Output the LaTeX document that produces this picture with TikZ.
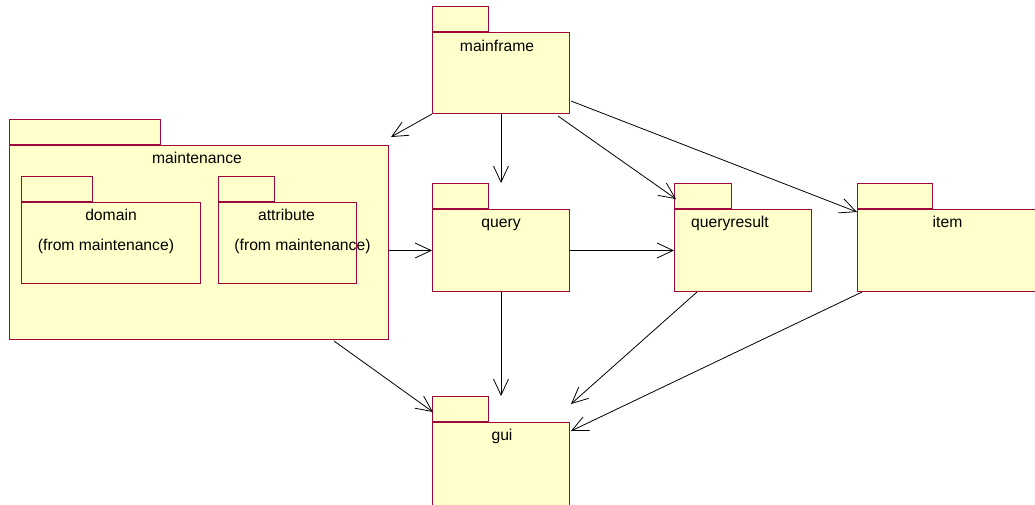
\documentclass[tikz,border=0pt]{standalone}
\usepackage{fontspec}
\setmainfont{Liberation Sans}
\usepackage{tikz}
\usetikzlibrary{calc,arrows.meta}
\definecolor{pkgred}{RGB}{158,8,58}
\definecolor{pkgfill}{RGB}{255,255,204}
\tikzset{
  pkgbody/.style={draw=pkgred, fill=pkgfill, line width=1pt, inner sep=0pt, anchor=north west},
  pkgtab/.style={draw=pkgred, fill=pkgfill, line width=1pt, inner sep=0pt, anchor=south west, minimum height=25pt},
  pkgname/.style={anchor=base, inner sep=0pt, font=\fontsize{15.7}{18}\selectfont},
  dep/.style={draw=black, line width=0.8pt, -{Straight Barb[length=16pt,width=15pt]}}
}
% package: name, corner, width:height:tab width
\def\umlpackage[#1](#2,#3)(#4:#5:#6){
  \node[pkgbody, minimum width=#4pt, minimum height=#5pt] (#1) at (#2,#3) {};
  \node[pkgtab, minimum width=#6pt] (#1-tab) at (#1.north west) {};
}

\begin{document}
\begin{tikzpicture}[x=1pt,y=-1pt]
			%%%%% START %%%%%
			\useasboundingbox (0,0) rectangle (1035,504);
			
			\umlpackage[maintenance](9,145)(379:194:151)
			\node[pkgname] (maintenance-name) at ($(maintenance.north)+(-2,18)$) {maintenance};
			
			\umlpackage[domain](21,202)(179:81:71)
			\node[pkgname] (domain-name) at ($(domain.north)+(0,18)$) {domain};
			\node[pkgname] (domain-from) at ($(domain.north)+(-5,48)$) {(from maintenance)};
			
			\umlpackage[attribute](218,202)(138:81:56)
			\node[pkgname] (attribute-name) at ($(attribute.north)+(-1,18)$) {attribute};
			\node[pkgname] (attribute-from) at ($(attribute.north)+(15,48)$) {(from maintenance)};
			
			\umlpackage[mainframe](432,32)(137:81:56)
			\node[pkgname] (mainframe-name) at ($(mainframe.north)+(-4,19)$) {mainframe};
			
			\umlpackage[query](432,209)(137:82:56)
			\node[pkgname] (query-name) at ($(query.north)+(0,18)$) {query};
			
			\umlpackage[queryresult](674,209)(137:82:57)
			\node[pkgname] (queryresult-name) at ($(queryresult.north)+(-13,18)$) {queryresult};
			
			\umlpackage[item](857,209)(182:82:75)
			\node[pkgname] (item-name) at ($(item.north)+(-1,18)$) {item};
			
			\umlpackage[gui](432,422)(137:86:56)
			\node[pkgname] (gui-name) at ($(gui.north)+(1,18)$) {gui};
			
			%%%%% dependencies %%%%%
			\draw[dep] (mainframe.south west) -- ($(maintenance.north east)+(2,-8)$);
			\draw[dep] (mainframe.south) -- (query.north |- query-tab.north);
			\draw[dep] ($(mainframe.south east)+(-12,2)$) -- ($(queryresult-tab.west)+(2,3)$);
			\draw[dep] ($(mainframe.south east)+(1,-13)$) -- ($(item.north west)+(0,3)$);
			
			\draw[dep] (maintenance.east |- query.west) -- (query.west);
			\draw[dep] (query.east) -- (queryresult.west);
			
			\draw[dep] ($(maintenance.south east)+(-55,1)$) -- ($(gui-tab.west)+(1,3)$);
			\draw[dep] (query.south) -- (gui.north |- gui-tab.north);
			\draw[dep] ($(queryresult.south west)+(23,0)$) -- ($(gui.north east)+(1,-18)$);
			\draw[dep] ($(item.south west)+(5,0)$) -- ($(gui.north east)+(1,9)$);
			
			%%%%% END %%%%%
\end{tikzpicture}
\end{document}
